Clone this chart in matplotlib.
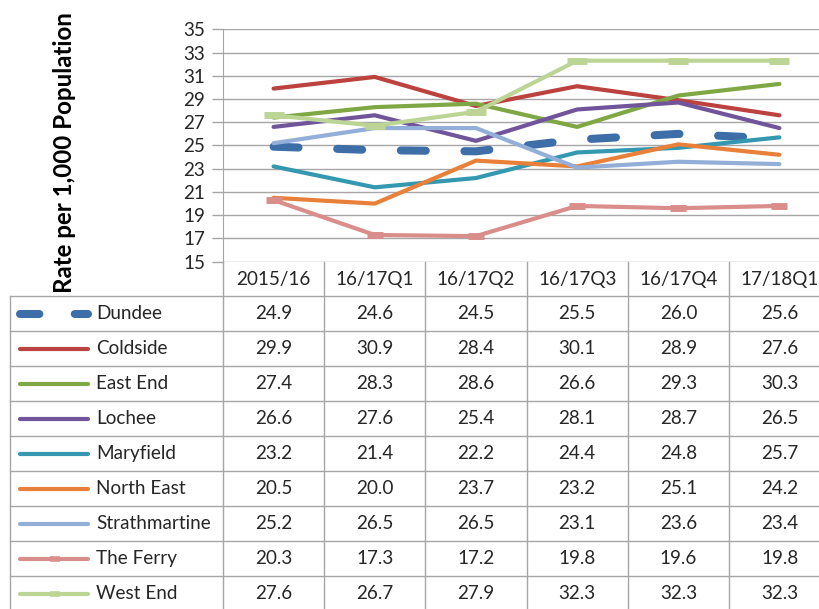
import numpy as np
import matplotlib.pyplot as plt

plt.rcParams['font.family'] = ['Lato', 'DejaVu Sans']

# data
periods = ['2015/16', '16/17Q1', '16/17Q2', '16/17Q3', '16/17Q4', '17/18Q1']
areas = ['Dundee', 'Coldside', 'East End', 'Lochee', 'Maryfield',
         'North East', 'Strathmartine', 'The Ferry', 'West End']
dundee = [24.9, 24.6, 24.5, 25.5, 26.0, 25.6]
coldside = [29.9, 30.9, 28.4, 30.1, 28.9, 27.6]
east_end = [27.4, 28.3, 28.6, 26.6, 29.3, 30.3]
lochee = [26.6, 27.6, 25.4, 28.1, 28.7, 26.5]
maryfield = [23.2, 21.4, 22.2, 24.4, 24.8, 25.7]
north_east = [20.5, 20.0, 23.7, 23.2, 25.1, 24.2]
strathmartine = [25.2, 26.5, 26.5, 23.1, 23.6, 23.4]
the_ferry = [20.3, 17.3, 17.2, 19.8, 19.6, 19.8]
west_end = [27.6, 26.7, 27.9, 32.3, 32.3, 32.3]
series = [dundee, coldside, east_end, lochee, maryfield,
          north_east, strathmartine, the_ferry, west_end]
yticks = list(range(15, 36, 2))

colors = ['#3d6ea8', '#bb423f', '#7fa845', '#71559a', '#3498b0',
          '#e8803a', '#93afd8', '#d98e8c', '#bcd595']

W, H = 819, 609
def frac(x0, y0, x1, y1):
    return [x0 / W, 1 - y1 / H, (x1 - x0) / W, (y1 - y0) / H]

fig = plt.figure(figsize=(W / 100, H / 100), dpi=100)

# overlay in pixel coords for the data table
ov = fig.add_axes([0, 0, 1, 1])
ov.set_xlim(0, W)
ov.set_ylim(H, 0)
ov.axis('off')

ax = fig.add_axes(frac(223, 29.3, 830, 261.7))
ax.set_zorder(2)
ax.patch.set_alpha(0)

grid_c = '#a6a6a6'
txt_c = '#262626'
fs = 13.6

x = np.arange(len(periods))
for i, (name, vals) in enumerate(zip(areas, series)):
    if name == 'Dundee':
        ax.plot(x, vals, color=colors[i], lw=5.8, ls=(0, (3.1, 4.8)),
                dash_capstyle='round', solid_capstyle='round')
    elif name in ('The Ferry', 'West End'):
        ax.plot(x, vals, color=colors[i], lw=3, solid_capstyle='round',
                solid_joinstyle='round', marker='_',
                ms=11 if name == 'The Ferry' else 14, mew=5)
    else:
        ax.plot(x, vals, color=colors[i], lw=3, solid_capstyle='round',
                solid_joinstyle='round')

ax.set_xlim(-0.5, 5.5)
ax.set_ylim(15, 35)
ax.set_yticks(yticks)
ax.set_xticks([])
ax.grid(axis='y', color=grid_c, lw=1)
ax.tick_params(axis='y', length=8, color=grid_c, width=1, pad=5,
               labelsize=fs, labelcolor=txt_c)
for s in ['top', 'right', 'bottom']:
    ax.spines[s].set_visible(False)
ax.spines['left'].set_color(grid_c)

fig.text(65 / W, 1 - 153 / H, 'Rate per 1,000 Population', rotation=90,
         ha='center', va='center', fontsize=17.4, fontweight='bold', color='black')

# table
col_edges = [223 + 101.2 * k for k in range(7)]
row_top = 296
row_h = 35
left = 10
for xe in col_edges:
    ov.plot([xe, xe], [261.7, H + 5], color=grid_c, lw=1)
ov.plot([left, left], [row_top, H + 5], color=grid_c, lw=1)
for r in range(len(areas) + 1):
    yy = row_top + r * row_h
    ov.plot([left, W + 20], [yy, yy], color=grid_c, lw=1)

for k, p in enumerate(periods):
    ov.text((col_edges[k] + col_edges[k + 1]) / 2, 279, p, ha='center',
            va='center', fontsize=fs, color=txt_c)

for r, (name, vals) in enumerate(zip(areas, series)):
    yc = row_top + r * row_h + row_h / 2
    if name == 'Dundee':
        ov.plot([20, 88], [yc, yc], color=colors[r], lw=5.8, ls=(0, (2.4, 4.4)),
                dash_capstyle='round')
    else:
        ov.plot([20, 88], [yc, yc], color=colors[r], lw=3, solid_capstyle='round')
        if name in ('The Ferry', 'West End'):
            ov.plot([55], [yc], color=colors[r], marker='_', ms=7, mew=4)
    ov.text(96, yc, name, ha='left', va='center', fontsize=fs, color=txt_c)
    for k, v in enumerate(vals):
        ov.text((col_edges[k] + col_edges[k + 1]) / 2, yc, '%.1f' % v,
                ha='center', va='center', fontsize=fs, color=txt_c)

fig.savefig('out.png', dpi=100)
